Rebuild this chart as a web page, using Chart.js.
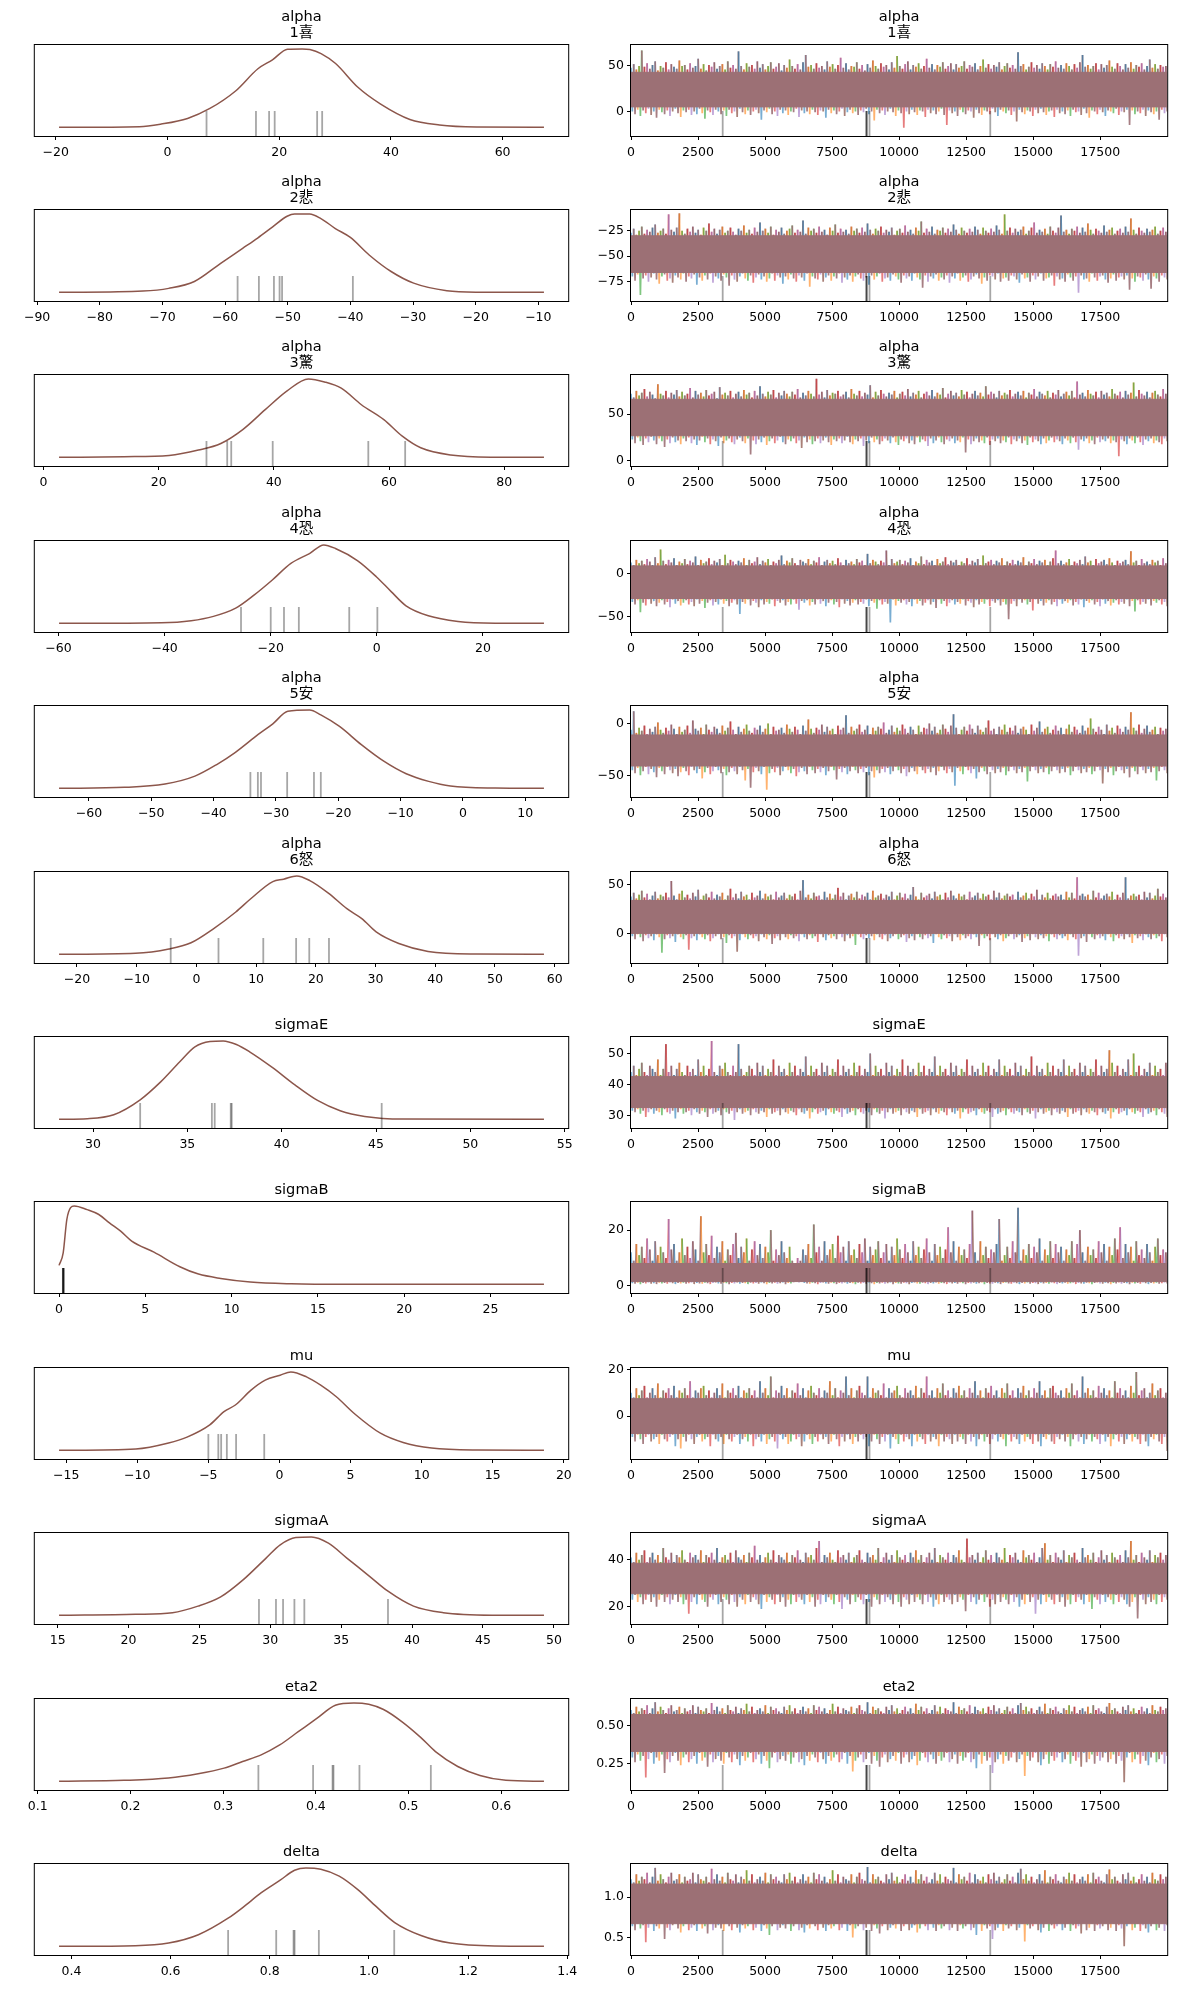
<!DOCTYPE html>
<html><head><meta charset="utf-8">
<script src="https://cdn.jsdelivr.net/npm/chart.js@4.4.1/dist/chart.umd.min.js"></script>
<style>
html,body{margin:0;padding:0;background:#fff;}
#fig{position:relative;width:1189px;height:1989px;background:#fff;overflow:hidden;}
#fig canvas{position:absolute;}
</style></head><body><div id="fig"></div>
<script>
// ---------- titles ----------
const titles = [['alpha','1喜'],['alpha','2悲'],['alpha','3驚'],['alpha','4恐'],['alpha','5安'],['alpha','6怒'],
  ['sigmaE'],['sigmaB'],['mu'],['sigmaA'],['eta2'],['delta']];

// ---------- KDE curves (x, normalized density) ----------
const kde1X = [-19.4,-5.0,-1.1,3.6,7.6,12.2,16.2,18.8,21.5,24.1,25.5,27.5,30.1,34.1,38.1,43.4,48.7,55.3,67.4];
const kde1Y = [0,0.008,0.042,0.114,0.241,0.464,0.747,0.861,0.996,1.0,0.992,0.941,0.814,0.511,0.300,0.101,0.030,0.004,0];
const kde2X = [-86.5,-73.1,-69.0,-64.9,-60.7,-57.2,-54.8,-52.4,-50.1,-48.9,-46.5,-44.7,-42.4,-40.0,-37.0,-33.5,-29.9,-24.6,-19.9,-9.1];
const kde2Y = [0,0.017,0.051,0.139,0.371,0.561,0.692,0.835,0.970,1.0,1.0,0.941,0.814,0.700,0.477,0.266,0.118,0.021,0.002,0];
const kde3X = [2.7,14.0,21.8,26.9,30.8,34.6,38.5,42.3,46.0,48.8,51.7,55.2,59.1,62.3,65.5,70.7,78.4,86.9];
const kde3Y = [0,0.008,0.025,0.093,0.177,0.354,0.608,0.848,1.0,0.962,0.882,0.671,0.481,0.270,0.122,0.030,0.002,0];
const kde4X = [-59.9,-40.6,-35.0,-30.8,-26.6,-23.1,-19.7,-16.2,-12.7,-10.0,-7.8,-3.6,-0.1,2.7,5.5,9.7,15.3,22.3,31.5];
const kde4Y = [0,0.008,0.034,0.089,0.194,0.363,0.553,0.764,0.890,1.0,0.954,0.798,0.595,0.405,0.224,0.097,0.025,0.002,0];
const kde5X = [-64.8,-54.3,-47.8,-43.0,-39.5,-36.5,-32.9,-30.5,-28.1,-24.6,-22.8,-19.8,-16.3,-12.7,-9.1,-5.5,-2.0,5.2,13.0];
const kde5Y = [0,0.013,0.055,0.156,0.304,0.460,0.684,0.823,0.983,1.0,0.937,0.789,0.557,0.346,0.186,0.089,0.030,0.004,0];
const kde6X = [-23.0,-10.2,-4.6,-0.9,2.9,6.6,9.1,12.8,14.6,16.8,19.0,22.1,25.2,27.7,30.1,33.9,38.8,46.9,58.2];
const kde6Y = [0,0.013,0.068,0.148,0.329,0.540,0.709,0.928,0.958,1.0,0.941,0.781,0.582,0.456,0.287,0.139,0.038,0.004,0];
const kde7X = [28.2,29.7,31.1,32.5,33.6,34.6,35.4,36.2,36.9,37.6,38.3,39.5,40.7,41.9,43.1,44.4,46.4,53.9];
const kde7Y = [0,0.008,0.059,0.249,0.481,0.734,0.924,0.992,1.0,0.954,0.861,0.662,0.439,0.241,0.110,0.038,0.004,0];
const kde8X = [0.0,0.24,0.45,0.67,0.88,1.63,2.28,2.92,3.57,4.21,5.50,7.00,8.08,9.37,11.08,13.45,16.67,28.1];
const kde8Y = [0.242,0.403,0.826,0.979,1.0,0.953,0.894,0.784,0.678,0.551,0.411,0.225,0.131,0.076,0.030,0.008,0.001,0];
const kde9X = [-15.5,-10.1,-7.8,-6.5,-4.9,-3.9,-3.1,-2.0,-1.0,0.05,0.8,1.9,2.9,4.0,5.3,7.1,8.7,10.7,13.9,18.6];
const kde9Y = [0,0.017,0.093,0.169,0.325,0.494,0.578,0.768,0.895,0.958,1.0,0.937,0.831,0.684,0.464,0.219,0.101,0.030,0.004,0];
const kde10X = [15.1,20.5,23.1,24.9,26.5,28.1,29.7,30.7,31.8,32.9,34.1,35.4,37.0,38.3,40.1,42.2,45.9,49.3];
const kde10Y = [0,0.013,0.034,0.118,0.236,0.456,0.730,0.899,0.992,1.0,0.920,0.730,0.498,0.308,0.118,0.034,0.002,0];
const kde11X = [0.123,0.193,0.241,0.273,0.301,0.321,0.341,0.361,0.381,0.401,0.421,0.441,0.457,0.473,0.493,0.513,0.529,0.553,0.577,0.605,0.646];
const kde11Y = [0,0.013,0.042,0.097,0.169,0.253,0.338,0.464,0.633,0.802,0.970,1.0,0.983,0.916,0.759,0.561,0.380,0.190,0.076,0.013,0];
const kde12X = [0.375,0.529,0.596,0.656,0.716,0.746,0.783,0.821,0.850,0.873,0.903,0.940,0.977,1.015,1.052,1.105,1.164,1.254,1.353];
const kde12Y = [0,0.008,0.042,0.148,0.359,0.498,0.684,0.844,0.970,1.0,0.983,0.895,0.726,0.506,0.304,0.139,0.042,0.004,0];

// ---------- divergences ----------
const rug1 = [7.0,15.85,18.2,19.2,26.8,27.7];
const rug2 = [-58.0,-54.6,-52.2,-51.3,-50.9,-39.6];
const rug3 = [28.3,31.9,32.6,39.8,56.4,62.8];
const rug4 = [-25.6,-20.0,-17.5,-14.7,-5.2,0.1];
const rug5 = [-34.1,-32.9,-32.4,-28.2,-23.9,-22.8];
const rug6 = [-4.3,3.7,11.2,16.7,18.9,22.2];
const rug7 = [32.5,36.3,36.45,37.3,37.35,45.3];
const rug8 = [0.22,0.23,0.24,0.25,0.26,0.27];
const rug9 = [-5.0,-4.3,-4.1,-3.7,-3.05,-1.07];
const rug10 = [29.2,30.4,30.9,31.7,32.4,38.3];
const rug11 = [0.338,0.397,0.418,0.419,0.447,0.524];
const rug12 = [0.716,0.813,0.848,0.850,0.899,1.051];
const divDraws = [3420,8780,8785,8790,8896,13400];

// ---------- tick labels ----------
const xt1 = ['-20','0','20','40','60'];
const xt2 = ['-90','-80','-70','-60','-50','-40','-30','-20','-10'];
const xt3 = ['0','20','40','60','80'];
const xt4 = ['-60','-40','-20','0','20'];
const xt5 = ['-60','-50','-40','-30','-20','-10','0','10'];
const xt6 = ['-20','-10','0','10','20','30','40','50','60'];
const xt7 = ['30','35','40','45','50','55'];
const xt8 = ['0','5','10','15','20','25'];
const xt9 = ['-15','-10','-5','0','5','10','15','20'];
const xt10 = ['15','20','25','30','35','40','45','50'];
const xt11 = ['0.1','0.2','0.3','0.4','0.5','0.6'];
const xt12 = ['0.4','0.6','0.8','1.0','1.2','1.4'];
const drawTicks = ['0','2500','5000','7500','10000','12500','15000','17500'];
const yt1 = ['0','50'], yt2 = ['-75','-50','-25'], yt3 = ['0','50'], yt4 = ['-50','0'], yt5 = ['-50','0'], yt6 = ['0','50'];
const yt7 = ['30','40','50'], yt8 = ['0','20'], yt9 = ['0','20'], yt10 = ['20','40'], yt11 = ['0.25','0.50'], yt12 = ['0.5','1.0'];

// ---------- trace panels: y limits, dense core, spike tips ----------
const lim1=[-27,73], lim2=[-94,-4.7], lim3=[-5.4,92], lim4=[-68,38], lim5=[-71,17], lim6=[-30.6,63.4];
const lim7=[25.9,55.3], lim8=[-2.6,30.1], lim9=[-18.5,20.7], lim10=[12.6,51.4], lim11=[0.079,0.671], lim12=[0.283,1.408];
const core1=[5,43], core2=[-66,-30], core3=[27,66], core4=[-29,9], core5=[-41,-11], core6=[0,34];
const core7=[32.5,42.5], core8=[1.5,8], core9=[-7.5,7.5], core10=[25.5,38.5], core11=[0.33,0.57], core12=[0.67,1.16];

const hi1=[48,52,46,50,67,49,53,47,51,55,45,50,48,54,46,52,49,47,56,50,
51,46,53,48,50,58,47,52,45,51,49,54,47,50,52,46,55,48,51,47,
66,50,46,53,49,51,47,55,48,52,46,50,54,47,49,53,45,51,48,57,
50,47,52,46,54,62,49,51,47,53,48,50,46,55,49,52,47,51,59,48,
53,46,50,49,54,47,51,45,52,48,56,50,47,53,49,51,46,54,48,61,
50,47,52,55,46,51,49,53,47,50,58,48,52,46,51,49,54,47,50,53,
46,52,48,50,55,47,51,49,53,46,50,57,48,52,47,51,49,54,46,50,
53,48,51,47,65,50,52,46,49,54,48,51,47,53,50,46,52,49,55,48,
51,47,53,50,46,52,48,54,62,49,51,47,50,53,46,52,48,51,56,49,
47,53,50,46,52,48,54,47,51,49,53,46,50,57,48,52,47,51,49,50];
const lo1=[0,-3,2,-5,1,-2,3,-4,0,-7,2,-1,-3,1,-5,0,3,-2,-6,1,
-1,2,-4,0,-3,3,-2,-8,1,-1,-4,2,0,-3,1,-5,2,-2,0,-6,
3,-1,-3,1,-4,0,2,-2,-9,1,-1,3,-3,0,-5,2,-2,1,-4,0,
-1,3,-6,1,-2,0,-3,2,-1,-4,1,0,-7,2,-2,1,-3,0,3,-5,
-1,2,-2,0,-4,1,-1,3,-3,0,-10,2,-2,1,-4,0,3,-1,-5,1,
-2,-18,0,-3,2,-1,-4,1,0,-6,2,-2,1,-3,0,3,-4,-15,1,-2,
0,-5,2,-1,-3,1,0,-7,2,-2,-4,1,0,-3,3,-1,-5,2,0,-2,
1,-4,0,-11,2,-1,-3,1,0,-5,2,-2,3,-1,-4,0,1,-6,2,-2,
0,-3,1,-5,2,-1,0,-4,3,-2,-7,1,0,-3,2,-1,-5,1,0,-2,
3,-4,0,-1,2,-15,1,-3,0,-2,2,-5,1,-1,-3,0,-9,2,-2,0];
const hi2=[-27,-23,-29,-25,-21,-28,-24,-26,-22,-19,-27,-25,-23,-28,-9,-24,-26,-22,-8,-25,
-28,-23,-26,-21,-27,-24,-29,-22,-25,-18,-26,-23,-28,-24,-21,-27,-25,-22,-26,-29,
-23,-25,-20,-27,-24,-28,-22,-26,-17,-25,-23,-27,-21,-29,-24,-26,-22,-28,-25,-23,
-20,-27,-24,-26,-15,-28,-22,-25,-23,-27,-21,-26,-24,-29,-22,-25,-19,-27,-23,-26,
-24,-28,-21,-25,-23,-27,-22,-26,-18,-24,-28,-23,-25,-21,-27,-24,-26,-22,-29,-25,
-23,-27,-20,-26,-24,-28,-22,-25,-16,-27,-23,-26,-21,-28,-24,-25,-22,-27,-23,-26,
-19,-24,-28,-22,-25,-27,-23,-26,-21,-24,-28,-22,-25,-27,-23,-26,-20,-24,-28,-9,
-25,-22,-27,-23,-26,-24,-21,-28,-25,-22,-17,-27,-24,-26,-23,-28,-21,-25,-27,-22,
-10,-26,-24,-28,-23,-25,-21,-27,-22,-26,-18,-24,-28,-23,-25,-27,-20,-26,-24,-22,
-28,-25,-23,-27,-21,-26,-13,-24,-28,-22,-25,-27,-23,-26,-24,-21,-28,-25,-22,-26];
const lo2=[-70,-74,-68,-88,-72,-69,-75,-71,-67,-73,-77,-70,-68,-74,-72,-76,-69,-71,-73,-67,
-75,-70,-72,-68,-78,-71,-74,-69,-73,-67,-76,-70,-72,-74,-68,-71,-79,-69,-73,-75,
-70,-67,-72,-74,-69,-76,-71,-68,-73,-70,-75,-72,-67,-74,-69,-71,-77,-70,-73,-68,
-72,-75,-69,-71,-74,-67,-80,-70,-72,-73,-68,-75,-71,-69,-74,-70,-72,-67,-76,-71,
-73,-69,-75,-70,-68,-72,-74,-71,-78,-69,-73,-70,-67,-75,-72,-71,-74,-68,-70,-73,
-76,-69,-72,-70,-74,-67,-71,-73,-81,-69,-75,-70,-72,-68,-74,-71,-73,-69,-76,-70,
-72,-67,-74,-71,-69,-75,-73,-70,-68,-72,-77,-71,-74,-69,-70,-73,-67,-75,-72,-71,
-74,-69,-70,-73,-76,-68,-72,-71,-75,-69,-73,-70,-67,-74,-72,-71,-69,-79,-70,-73,
-72,-75,-68,-71,-74,-70,-86,-69,-73,-72,-75,-67,-71,-74,-70,-69,-73,-76,-72,-68,
-74,-71,-70,-73,-69,-83,-72,-75,-70,-71,-74,-68,-73,-82,-70,-72,-75,-69,-71,-73];
const hi3=[72,68,75,70,73,77,69,74,71,67,82,72,70,75,68,73,71,76,69,74,
70,72,78,68,75,71,73,69,76,70,72,74,67,79,71,73,70,75,68,72,
74,69,76,71,73,68,75,70,80,72,69,74,71,76,68,73,70,75,72,69,
74,71,77,68,73,70,75,72,69,88,71,74,68,76,70,73,72,75,69,71,
74,68,77,72,70,75,69,73,71,81,68,74,70,76,72,69,73,71,75,68,
72,74,70,77,69,73,71,75,68,72,74,70,76,69,73,71,78,68,72,75,
70,73,69,76,71,74,68,72,75,70,73,69,80,71,74,72,68,75,70,73,
71,76,69,72,74,70,75,68,73,71,77,69,74,72,70,75,68,73,71,76,
69,72,74,70,75,68,85,71,73,69,76,72,70,74,68,75,71,73,69,77,
72,70,74,68,75,71,73,84,69,76,72,70,74,68,73,75,71,69,77,72];
const lo3=[23,19,25,21,17,24,20,26,22,18,24,21,15,23,19,25,20,22,18,24,
21,25,19,23,17,22,26,20,24,18,23,21,16,25,19,22,24,20,18,23,
25,21,19,24,7,22,18,23,20,25,17,21,24,19,22,26,20,18,23,21,
24,19,22,14,25,20,23,18,21,24,19,22,25,20,17,23,21,24,19,22,
26,20,18,23,21,24,16,22,19,25,20,23,18,21,24,22,19,25,20,17,
23,21,24,19,22,18,25,20,23,21,16,24,19,22,25,20,18,23,21,24,
19,22,20,25,9,23,18,21,24,20,22,19,25,17,23,21,24,19,22,20,
25,18,23,21,24,19,22,17,25,20,23,21,18,24,19,22,25,20,23,21,
18,24,22,19,25,20,12,23,21,24,19,22,18,25,20,23,21,24,19,22,
20,5,23,21,18,24,22,19,25,20,17,23,21,24,19,22,20,18,24,21];
const hi4=[13,10,16,12,15,11,17,14,10,19,12,28,15,11,16,13,18,10,14,12,
17,11,15,13,20,10,16,12,14,18,11,15,13,17,10,22,12,16,14,11,
15,13,18,10,16,12,14,19,11,15,13,17,10,14,12,16,21,11,15,13,
18,12,10,16,14,12,17,11,15,13,19,10,14,16,12,15,11,18,13,10,
16,12,14,11,17,13,15,10,23,12,16,14,11,15,13,27,10,17,12,14,
16,11,15,13,18,10,14,12,20,11,16,13,15,10,17,12,14,19,11,15,
13,16,10,14,12,18,11,15,13,17,10,21,12,14,16,11,15,13,18,10,
14,12,16,11,15,13,19,10,14,12,17,11,15,13,16,10,14,18,27,12,
15,11,13,17,10,14,12,16,11,20,13,15,10,17,12,14,16,11,18,13,
10,15,12,14,16,11,26,13,15,10,17,12,14,11,16,13,15,10,18,12];
const lo4=[-33,-36,-31,-45,-34,-37,-30,-35,-32,-38,-34,-31,-36,-33,-39,-30,-35,-32,-37,-34,
-31,-36,-33,-38,-30,-35,-32,-40,-34,-31,-37,-33,-36,-30,-35,-32,-38,-34,-31,-36,
-47,-33,-35,-30,-37,-32,-34,-39,-31,-36,-33,-35,-30,-38,-32,-34,-31,-37,-33,-36,
-30,-35,-42,-32,-34,-31,-37,-33,-36,-30,-35,-32,-38,-34,-31,-36,-33,-39,-30,-35,
-32,-37,-34,-31,-36,-33,-35,-30,-38,-32,-34,-41,-31,-36,-33,-35,-57,-30,-37,-32,
-34,-31,-36,-33,-38,-30,-35,-32,-37,-34,-31,-36,-33,-40,-30,-35,-32,-38,-34,-31,
-36,-33,-35,-30,-37,-32,-34,-39,-31,-36,-33,-35,-30,-38,-32,-34,-31,-37,-33,-36,
-53,-35,-32,-38,-30,-34,-31,-36,-33,-43,-30,-35,-32,-37,-34,-31,-36,-33,-38,-30,
-35,-32,-34,-31,-37,-33,-36,-30,-39,-32,-34,-31,-36,-33,-38,-30,-35,-32,-37,-34,
-31,-36,-33,-35,-30,-38,-32,-44,-31,-36,-33,-35,-30,-37,-32,-34,-31,-36,-33,-38];
const hi5=[-6,12,-9,-4,-7,-2,-10,-5,-8,-3,1,-6,-9,-4,-7,-1,-5,-10,-3,-8,
-6,-2,-9,3,-5,-7,-4,-10,-1,-6,-8,-3,-5,-9,-2,-7,-4,2,-6,-10,
-3,-8,-5,-1,-7,-9,-4,-6,-2,-8,-5,0,-10,-3,-7,-6,-4,-9,-1,-5,
-8,-3,-6,-10,-2,-7,4,-5,-9,-4,-6,-1,-8,-3,-7,-5,-10,-2,-6,-4,
8,-9,-3,-7,-5,-1,-8,-6,-2,-10,-4,-7,-3,-5,1,-9,-6,-2,-8,-4,
-7,-1,-5,-9,-3,-6,-10,-2,-8,-4,-5,0,-7,-3,-9,-6,-1,-5,-8,-2,
9,-4,-10,-6,-3,-7,-1,-5,-9,-2,-6,-8,-4,3,-7,-5,-10,-3,-6,-1,
-8,-4,-7,-2,-9,-5,-3,-6,-10,-1,-7,-4,2,-8,-5,-3,-9,-6,-2,-7,
-4,-10,-5,-1,-8,-3,-6,-9,-2,-7,-4,5,-5,-8,-3,-6,-10,-1,-7,-4,
-9,-2,-5,-8,-3,-6,11,-4,-7,-1,-9,-5,-2,-8,-6,-3,-10,-4,-7,-5];
const lo5=[-45,-48,-43,-50,-46,-42,-49,-44,-47,-52,-43,-46,-49,-42,-45,-48,-44,-51,-47,-43,
-46,-50,-42,-45,-48,-44,-53,-47,-43,-49,-46,-42,-45,-48,-44,-50,-47,-43,-46,-49,
-42,-45,-55,-44,-62,-47,-43,-46,-49,-42,-64,-48,-44,-47,-43,-50,-46,-42,-45,-48,
-44,-51,-47,-43,-46,-49,-42,-45,-48,-44,-47,-43,-50,-46,-42,-45,-54,-44,-47,-43,
-49,-46,-42,-45,-48,-44,-47,-43,-50,-46,-52,-45,-48,-44,-47,-43,-49,-46,-42,-45,
-48,-44,-51,-47,-43,-46,-49,-42,-45,-48,-44,-47,-43,-50,-46,-42,-45,-48,-44,-47,
-60,-43,-46,-49,-42,-45,-48,-44,-53,-47,-43,-46,-49,-42,-45,-48,-44,-47,-43,-50,
-46,-42,-45,-48,-44,-47,-43,-56,-46,-42,-45,-48,-44,-47,-43,-49,-46,-42,-45,-48,
-44,-47,-43,-50,-46,-42,-45,-48,-44,-47,-43,-49,-46,-42,-45,-58,-44,-47,-43,-50,
-46,-42,-45,-48,-44,-52,-43,-46,-49,-42,-45,-48,-44,-47,-43,-55,-46,-42,-45,-48];
const hi6=[38,42,36,40,44,37,41,35,39,43,36,40,38,42,37,54,39,35,41,44,
37,40,36,42,38,45,35,39,41,37,43,36,40,38,42,35,39,46,37,41,
36,43,38,40,35,42,37,39,44,36,41,38,40,35,43,37,39,42,36,40,
38,41,35,44,55,37,40,36,42,38,39,35,43,37,41,36,40,47,38,42,
35,39,41,37,43,36,40,38,42,35,44,37,39,41,36,40,38,43,35,39,
42,37,41,36,40,48,38,35,42,37,39,41,36,43,38,40,35,42,37,44,
39,36,41,38,40,35,43,37,39,42,36,41,38,40,35,44,37,42,36,39,
41,38,40,35,43,37,39,42,36,41,38,45,35,40,37,42,36,39,41,38,
40,35,43,37,42,36,58,39,41,38,40,35,44,37,42,36,39,41,38,43,
35,40,37,42,58,36,39,41,38,40,35,43,37,42,36,39,46,38,41,37];
const lo6=[-3,-6,-1,-4,-8,-2,-5,-3,-7,-1,-4,-20,-6,-2,-5,-3,-9,-1,-4,-6,
-2,-17,-5,-3,-7,-1,-4,-6,-2,-8,-5,-3,-1,-6,-4,-10,-2,-5,-3,-19,
-7,-1,-4,-6,-2,-5,-3,-8,-1,-4,-6,-2,-11,-5,-3,-7,-1,-4,-6,-2,
-5,-3,-8,-1,-4,-6,-2,-5,-3,-9,-1,-4,-7,-2,-5,-3,-6,-1,-4,-8,
-2,-5,-3,-12,-1,-4,-6,-2,-5,-3,-7,-1,-4,-6,-2,-8,-5,-3,-1,-6,
-4,-2,-9,-5,-3,-7,-1,-4,-6,-2,-5,-3,-10,-1,-4,-6,-2,-5,-3,-8,
-1,-4,-7,-2,-5,-3,-6,-1,-4,-13,-2,-5,-3,-7,-1,-4,-6,-2,-8,-5,
-3,-1,-6,-4,-2,-9,-5,-3,-7,-1,-4,-6,-2,-5,-3,-8,-1,-4,-6,-2,
-5,-3,-7,-1,-4,-6,-23,-5,-3,-9,-1,-4,-6,-2,-5,-3,-7,-1,-4,-8,
-2,-5,-3,-6,-1,-4,-10,-2,-5,-3,-7,-1,-4,-6,-2,-5,-3,-8,-1,-4];
const hi7=[44,46,43,45,47,44,43,46,45,44,48,43,45,53,44,46,43,45,47,44,
43,46,44,45,43,48,44,46,43,45,54,44,43,46,45,47,44,43,46,44,
53,45,43,44,46,45,43,47,44,46,43,45,44,48,43,46,44,45,43,47,
44,46,43,45,44,49,43,46,44,45,43,47,44,46,43,45,44,48,43,46,
44,45,43,47,44,46,43,45,44,50,43,46,44,45,43,47,44,46,43,45,
44,48,43,46,44,45,43,47,44,46,43,45,44,49,43,46,44,45,43,47,
44,46,43,45,44,48,43,46,44,45,43,47,44,46,43,45,44,48,43,46,
44,45,43,47,44,46,43,45,44,49,43,46,44,45,43,47,44,46,43,45,
44,48,43,46,44,45,43,47,44,46,43,45,44,48,43,46,44,45,51,47,
44,46,43,45,44,48,43,50,44,46,43,45,44,47,43,46,44,45,43,47];
const lo7=[31.5,31,32,30.5,31.5,29.5,31,32,30.5,31.5,31,30,32,31,30.5,31.5,29,31,32,30.5,
31,31.5,30,32,31,30.5,31.5,31,29.5,32,30.5,31,31.5,30,32,31,30.5,31.5,28.5,31,
32,30.5,31,31.5,30,32,31,30.5,31.5,31,29.5,32,30.5,31,31.5,30,32,31,30.5,31.5,
31,30,32,31,30.5,31.5,29,31,32,30.5,31,31.5,30,32,31,30.5,31.5,31,29.5,32,
30.5,31,31.5,30,32,31,30.5,31.5,31,30,32,31,30.5,31.5,29,31,32,30.5,31,31.5,
30,32,31,30.5,31.5,31,29.5,32,30.5,31,31.5,30,32,31,30.5,31.5,31,30,32,31,
30.5,31.5,29,31,32,30.5,31,31.5,30,32,31,30.5,31.5,31,29.5,32,30.5,31,31.5,30,
32,31,30.5,31.5,31,30,32,31,30.5,31.5,29,31,32,30.5,31,31.5,30,32,31,30.5,
31.5,31,29.5,32,30.5,31,31.5,30,32,31,30.5,31.5,31,30,32,31,30.5,31.5,29,31,
32,30.5,31,31.5,30,32,31,30.5,31.5,31,29.5,32,30.5,31,31.5,30,32,31,30.5,29.5];
const hi8=[12,9,15,11,14,10,17,13,9,16,11,14,12,10,24,13,15,9,12,17,
11,14,10,16,13,9,25,12,15,11,18,10,14,12,16,9,13,11,15,19,
10,14,12,17,9,13,16,11,15,10,14,12,20,9,13,11,16,12,10,14,
9,8,10,9,13,11,15,10,22,12,14,9,16,11,13,15,10,18,12,14,
9,16,11,13,10,15,12,17,9,14,11,13,16,10,12,15,9,14,11,17,
13,10,15,12,9,16,11,14,10,13,17,12,9,15,11,14,10,13,21,12,
16,9,14,11,13,10,15,27,12,9,16,11,14,10,13,12,15,24,9,11,
14,10,16,12,28,9,13,11,15,10,14,12,17,9,13,11,16,10,15,12,
14,9,13,11,16,10,15,20,12,9,14,11,13,10,16,12,15,9,14,11,
17,13,21,10,15,12,14,9,16,11,13,10,15,12,9,14,17,11,13,12];
const lo8=[.9,.7,1.1,.6,1,.8,1.2,.7,.9,.6,1.1,.8,1,.7,1.2,.9,.6,1,.8,1.1,
.7,.9,1.2,.6,1,.8,.7,1.1,.9,.6,1,1.2,.8,.7,1.1,.9,.6,1,.8,1.2,
.7,1,.9,.6,1.1,.8,1,.7,1.2,.9,.6,1,.8,1.1,.7,.9,1.2,.6,1,.8,
1.3,1.5,1.2,1.4,1,.8,.7,1.1,.9,.6,1,1.2,.8,.7,1.1,.9,.6,1,.8,1.2,
.7,1,.9,.6,1.1,.8,1,.7,1.2,.9,.6,1,.8,1.1,.7,.9,1.2,.6,1,.8,
.7,1.1,.9,.6,1,1.2,.8,.7,1.1,.9,.6,1,.8,1.2,.7,1,.9,.6,1.1,.8,
1,.7,1.2,.9,.6,1,.8,1.1,.7,.9,1.2,.6,1,.8,.7,1.1,.9,.6,1,1.2,
.8,.7,1.1,.9,.6,1,.8,1.2,.7,1,.9,.6,1.1,.8,1,.7,1.2,.9,.6,1,
.8,1.1,.7,.9,1.2,.6,1,.8,.7,1.1,.9,.6,1,1.2,.8,.7,1.1,.9,.6,1,
.8,1.2,.7,1,.9,.6,1.1,.8,1,.7,1.2,.9,.6,1,.8,1.1,.7,.9,1.2,.8];
const hi9=[10,8,12,9,11,13,8,10,12,9,14,8,11,10,12,9,13,8,11,10,
12,9,15,8,11,10,12,13,9,11,8,10,12,9,14,8,11,10,12,9,
13,8,11,10,12,9,11,8,15,10,12,9,17,8,11,10,13,9,12,8,
11,10,14,9,12,8,11,13,10,9,12,8,11,10,15,9,12,8,11,10,
17,9,12,8,11,13,10,9,17,8,12,10,11,9,14,8,12,10,11,13,
9,8,12,10,11,9,13,8,12,10,17,9,11,8,12,10,14,9,11,8,
12,10,13,9,11,8,12,10,15,9,11,8,12,10,13,9,11,8,12,10,
14,9,11,8,12,10,13,9,11,8,12,10,15,9,11,8,12,13,10,9,
11,8,12,10,14,9,11,8,17,10,12,9,11,8,13,10,12,9,11,8,
15,10,12,9,11,8,13,10,19,9,11,12,8,10,14,9,11,12,8,10];
const lo9=[-9,-11,-8,-10,-12,-9,-8,-11,-10,-9,-12,-8,-10,-11,-9,-8,-13,-10,-14,-9,
-11,-8,-10,-12,-9,-8,-11,-10,-9,-13,-8,-10,-11,-9,-12,-8,-10,-11,-9,-8,
-12,-10,-9,-11,-8,-13,-10,-9,-11,-8,-12,-10,-9,-11,-14,-8,-10,-9,-12,-11,
-8,-10,-9,-13,-11,-8,-10,-12,-9,-11,-8,-10,-9,-12,-11,-8,-10,-13,-9,-11,
-8,-10,-12,-9,-11,-8,-10,-9,-13,-11,-8,-10,-12,-9,-11,-8,-14,-9,-10,-12,
-8,-11,-9,-10,-13,-8,-11,-9,-10,-12,-8,-11,-9,-10,-13,-8,-11,-9,-10,-12,
-8,-11,-9,-10,-12,-8,-11,-9,-13,-10,-8,-11,-9,-12,-10,-8,-11,-9,-10,-13,
-8,-11,-9,-10,-12,-8,-11,-9,-10,-12,-8,-11,-13,-9,-10,-8,-11,-12,-9,-10,
-8,-11,-9,-13,-10,-8,-11,-9,-12,-10,-8,-11,-9,-10,-12,-8,-11,-9,-13,-10,
-8,-11,-9,-12,-10,-8,-11,-9,-10,-12,-8,-11,-13,-9,-10,-8,-11,-12,-9,-15];
const hi10=[41,39,43,40,42,44,39,41,43,40,42,39,45,41,40,43,39,42,41,44,
40,39,43,41,42,40,44,39,42,41,43,40,45,39,41,42,40,43,39,44,
41,40,42,39,43,41,46,40,42,39,41,43,40,44,39,42,41,40,43,39,
42,41,44,40,39,43,41,42,40,45,48,39,42,41,43,40,39,44,41,42,
40,43,39,41,42,44,40,39,43,41,42,40,45,39,41,43,40,42,39,44,
41,40,42,39,43,41,44,40,42,39,41,43,40,45,39,42,41,40,43,39,
42,41,44,40,39,49,41,42,40,43,39,41,44,40,42,39,43,41,40,45,
39,42,41,43,40,39,44,41,42,40,43,39,41,45,47,40,42,39,43,41,
40,44,39,42,41,43,40,39,45,41,42,40,43,39,41,44,40,42,39,43,
41,40,42,39,44,41,48,40,42,39,43,41,40,44,39,42,41,43,40,42];
const lo10=[23,25,22,24,21,23,25,22,24,20,23,25,22,24,21,23,25,22,24,21,
23,17,22,24,21,25,23,22,20,24,23,25,21,22,24,23,21,25,22,20,
24,23,21,25,22,24,23,21,19,25,22,24,23,21,25,22,24,20,23,21,
25,22,24,23,21,25,22,24,20,23,21,25,22,24,23,21,25,22,19,24,
23,21,25,22,24,23,21,25,22,20,24,23,21,25,22,24,23,21,25,22,
20,24,23,21,25,22,24,23,21,25,22,24,20,23,21,25,22,24,23,21,
25,22,24,23,18,25,22,24,21,23,25,22,24,20,23,21,25,22,24,23,
21,25,22,24,20,23,21,25,22,24,17,23,21,25,22,24,23,21,25,22,
24,20,23,21,25,22,24,23,21,25,22,19,24,23,21,25,22,24,23,21,
25,22,24,23,21,20,22,24,15,25,23,21,24,22,23,21,25,22,24,23];
const hi11=[.6,.58,.62,.59,.61,.6,.63,.58,.61,.65,.59,.62,.6,.58,.61,.63,.59,.6,.62,.58,
.61,.59,.6,.63,.58,.62,.6,.59,.61,.58,.645,.6,.62,.59,.61,.58,.63,.6,.59,.62,
.58,.61,.6,.64,.59,.62,.58,.6,.61,.59,.63,.58,.62,.6,.61,.59,.58,.62,.6,.63,
.59,.61,.58,.6,.62,.59,.61,.58,.63,.6,.62,.59,.61,.58,.6,.64,.59,.62,.58,.61,
.6,.59,.62,.58,.61,.63,.6,.59,.65,.58,.62,.6,.61,.59,.58,.62,.6,.63,.59,.61,
.58,.6,.62,.59,.61,.58,.64,.6,.62,.59,.61,.58,.6,.63,.59,.62,.58,.61,.6,.59,
.65,.58,.62,.6,.61,.59,.63,.58,.62,.6,.59,.61,.58,.62,.6,.63,.59,.61,.58,.6,
.62,.59,.61,.58,.63,.645,.6,.62,.59,.61,.58,.6,.62,.59,.64,.58,.61,.6,.62,.59,
.58,.61,.6,.63,.59,.62,.58,.6,.61,.59,.62,.58,.63,.6,.61,.59,.58,.62,.645,.6,
.61,.59,.58,.62,.6,.63,.59,.61,.58,.6,.62,.59,.61,.58,.63,.6,.59,.62,.6,.61];
const lo11=[.29,.26,.31,.27,.3,.16,.28,.32,.25,.29,.27,.31,.19,.28,.26,.3,.32,.27,.24,.29,
.31,.26,.28,.3,.25,.32,.27,.29,.23,.31,.26,.28,.3,.27,.25,.32,.29,.26,.31,.28,
.24,.3,.27,.29,.32,.26,.28,.31,.25,.3,.27,.22,.29,.32,.26,.28,.3,.27,.31,.25,
.29,.32,.26,.28,.24,.3,.27,.31,.29,.26,.32,.28,.25,.3,.27,.29,.31,.26,.28,.32,
.25,.3,.2,.27,.29,.31,.26,.28,.32,.25,.3,.27,.23,.29,.31,.26,.28,.3,.27,.32,
.25,.29,.31,.26,.28,.3,.24,.27,.32,.29,.26,.31,.28,.25,.3,.27,.29,.32,.26,.28,
.31,.25,.3,.27,.29,.32,.26,.28,.22,.31,.25,.3,.27,.29,.19,.26,.28,.31,.25,.3,
.27,.29,.32,.26,.28,.31,.17,.3,.27,.29,.32,.26,.24,.28,.31,.25,.3,.27,.29,.32,
.26,.28,.31,.25,.3,.27,.29,.23,.32,.26,.28,.31,.25,.3,.27,.29,.32,.26,.28,.31,
.25,.3,.27,.13,.29,.32,.26,.28,.31,.25,.3,.27,.24,.29,.32,.26,.28,.31,.25,.3];
const hi12=[1.22,1.18,1.28,1.2,1.25,1.22,1.3,1.18,1.25,1.36,1.2,1.28,1.22,1.18,1.25,1.3,1.2,1.22,1.28,1.18,
1.25,1.2,1.22,1.3,1.18,1.28,1.22,1.2,1.25,1.18,1.35,1.22,1.28,1.2,1.25,1.18,1.3,1.22,1.2,1.28,
1.18,1.25,1.22,1.33,1.2,1.28,1.18,1.22,1.25,1.2,1.3,1.18,1.28,1.22,1.25,1.2,1.18,1.28,1.22,1.3,
1.2,1.25,1.18,1.22,1.28,1.2,1.25,1.18,1.3,1.22,1.28,1.2,1.25,1.18,1.22,1.33,1.2,1.28,1.18,1.25,
1.22,1.2,1.28,1.18,1.25,1.3,1.22,1.2,1.37,1.18,1.28,1.22,1.25,1.2,1.18,1.28,1.22,1.3,1.2,1.25,
1.18,1.22,1.28,1.2,1.25,1.18,1.33,1.22,1.28,1.2,1.25,1.18,1.22,1.3,1.2,1.28,1.18,1.25,1.22,1.2,
1.36,1.18,1.28,1.22,1.25,1.2,1.3,1.18,1.28,1.22,1.2,1.25,1.18,1.28,1.22,1.3,1.2,1.25,1.18,1.22,
1.28,1.2,1.25,1.18,1.3,1.35,1.22,1.28,1.2,1.25,1.18,1.22,1.28,1.2,1.33,1.18,1.25,1.22,1.28,1.2,
1.18,1.25,1.22,1.3,1.2,1.28,1.18,1.22,1.25,1.2,1.28,1.18,1.3,1.22,1.25,1.2,1.18,1.28,1.34,1.22,
1.25,1.2,1.18,1.28,1.22,1.3,1.2,1.25,1.18,1.22,1.28,1.2,1.25,1.18,1.3,1.22,1.2,1.28,1.22,1.25];
const lo12=[.64,.59,.67,.61,.65,.44,.62,.69,.58,.64,.61,.67,.48,.62,.59,.65,.69,.61,.56,.64,
.67,.59,.62,.65,.58,.69,.61,.64,.55,.67,.59,.62,.65,.61,.58,.69,.64,.59,.67,.62,
.56,.65,.61,.64,.69,.59,.62,.67,.58,.65,.61,.53,.64,.69,.59,.62,.65,.61,.67,.58,
.64,.69,.59,.62,.56,.65,.61,.67,.64,.59,.69,.62,.58,.65,.61,.64,.67,.59,.62,.69,
.58,.65,.5,.61,.64,.67,.59,.62,.69,.58,.65,.61,.55,.64,.67,.59,.62,.65,.61,.69,
.58,.64,.67,.59,.62,.65,.56,.61,.69,.64,.59,.67,.62,.58,.65,.61,.64,.69,.59,.62,
.67,.58,.65,.61,.64,.69,.59,.62,.53,.67,.58,.65,.61,.64,.48,.59,.62,.67,.58,.65,
.61,.64,.69,.59,.62,.67,.45,.65,.61,.64,.69,.59,.56,.62,.67,.58,.65,.61,.64,.69,
.59,.62,.67,.58,.65,.61,.64,.55,.69,.59,.62,.67,.58,.65,.61,.64,.69,.59,.62,.67,
.58,.65,.61,.39,.64,.69,.59,.62,.67,.58,.65,.61,.56,.64,.69,.59,.62,.67,.58,.65];

// ---------- assemble ----------
const kdeXs=[kde1X,kde2X,kde3X,kde4X,kde5X,kde6X,kde7X,kde8X,kde9X,kde10X,kde11X,kde12X];
const kdeYs=[kde1Y,kde2Y,kde3Y,kde4Y,kde5Y,kde6Y,kde7Y,kde8Y,kde9Y,kde10Y,kde11Y,kde12Y];
const rugs=[rug1,rug2,rug3,rug4,rug5,rug6,rug7,rug8,rug9,rug10,rug11,rug12];
const xts=[xt1,xt2,xt3,xt4,xt5,xt6,xt7,xt8,xt9,xt10,xt11,xt12];
const yts=[yt1,yt2,yt3,yt4,yt5,yt6,yt7,yt8,yt9,yt10,yt11,yt12];
const lims=[lim1,lim2,lim3,lim4,lim5,lim6,lim7,lim8,lim9,lim10,lim11,lim12];
const cores=[core1,core2,core3,core4,core5,core6,core7,core8,core9,core10,core11,core12];
const his=[hi1,hi2,hi3,hi4,hi5,hi6,hi7,hi8,hi9,hi10,hi11,hi12];
const los=[lo1,lo2,lo3,lo4,lo5,lo6,lo7,lo8,lo9,lo10,lo11,lo12];

const FONT='"DejaVu Sans","Noto Sans CJK JP",sans-serif';
const TICKPX=12.5, TITLEPX=14.6;
const KDE_COLOR='#8c564b';
const MAUVE='rgb(156,112,117)';
const PAL=['rgba(31,119,180,0.6)','rgba(156,112,117,0.9)','rgba(255,127,14,0.6)','rgba(44,160,44,0.6)','rgba(156,112,117,0.9)','rgba(214,39,40,0.6)','rgba(148,103,189,0.6)','rgba(140,86,75,0.75)'];
const KDE_YLIM=[-0.11,1.05];
const ROW0=44.5, ROWSTEP=165.4, BOXH=91;
const LBOX=[24,573], RBOX=[631,1180];
const LASTDRAW=19999;
const RUG_R=25;

const fmt = s => String(s).replace('-', '\u2212');

const framePlugin = {
  id:'frame',
  afterDraw(chart, args, opts){
    const {ctx, chartArea:a} = chart;
    ctx.save();
    ctx.strokeStyle='#000'; ctx.lineWidth=1;
    ctx.strokeRect(a.left-0.5, a.top-0.5, a.right-a.left+1, a.bottom-a.top+1);
    ctx.fillStyle='#000'; ctx.font=`${TITLEPX}px ${FONT}`;
    ctx.textAlign='center'; ctx.textBaseline='alphabetic';
    const lines=opts.lines||[]; const cx=(a.left+a.right)/2;
    lines.forEach((t,i)=>ctx.fillText(t, cx, a.top-8-(lines.length-1-i)*16.5));
    ctx.restore();
  }
};

const fig=document.getElementById('fig');
function makeCanvas(l,t,w,h){
  const c=document.createElement('canvas');
  c.width=w; c.height=h;
  c.style.left=l+'px'; c.style.top=t+'px'; c.style.width=w+'px'; c.style.height=h+'px';
  fig.appendChild(c); return c;
}
function tickGrid(){ return {display:true, drawOnChartArea:false, drawTicks:true, tickLength:4, color:'#000', lineWidth:1}; }
function xAxis(min,max,labels,padB){
  return {type:'linear', min, max,
    afterFit:s=>{s.height=padB;},
    afterBuildTicks:s=>{s.ticks=labels.map(v=>({value:parseFloat(v)}));},
    ticks:{autoSkip:false, maxRotation:0, padding:5, color:'#000', font:{family:FONT,size:TICKPX},
      callback:(v,i)=>fmt(labels[i])},
    grid:tickGrid(), border:{display:false}};
}
function rugSet(points){
  return {data:points, showLine:false, pointStyle:'line', pointRotation:90, pointRadius:RUG_R, pointHoverRadius:RUG_R,
    pointBorderColor:'rgba(0,0,0,0.35)', pointBorderWidth:1.8, borderColor:'rgba(0,0,0,0.35)', clip:0, order:0};
}

for(let k=0;k<12;k++){
  const top=Math.round(ROW0+k*ROWSTEP);
  // ----- density panel -----
  {
    const PADL=16,PADR=22,PADT=42,PADB=28;
    const cv=makeCanvas(LBOX[0]-PADL, top-PADT, LBOX[1]-LBOX[0]+PADL+PADR, BOXH+PADT+PADB);
    const xs=kdeXs[k], ys=kdeYs[k];
    const lo=Math.min(...xs), hi=Math.max(...xs), m=0.05*(hi-lo);
    new Chart(cv,{
      type:'scatter',
      data:{datasets:[
        rugSet(rugs[k].map(v=>({x:v,y:KDE_YLIM[0]}))),
        {data:xs.map((x,i)=>({x,y:ys[i]})), showLine:true, pointRadius:0, borderColor:KDE_COLOR, borderWidth:1.5,
         cubicInterpolationMode:'monotone', order:1}
      ]},
      options:{animation:false, responsive:false, events:[],
        layout:{padding:{left:PADL,right:PADR,top:PADT,bottom:0}},
        plugins:{legend:{display:false}, tooltip:{enabled:false}, frame:{lines:titles[k]}},
        scales:{x:xAxis(lo-m,hi+m,xts[k],PADB), y:{type:'linear',min:KDE_YLIM[0],max:KDE_YLIM[1],display:false}}},
      plugins:[framePlugin]
    });
  }
  // ----- trace panel -----
  {
    const PADL=62,PADR=14,PADT=42,PADB=28;
    const cv=makeCanvas(RBOX[0]-PADL, top-PADT, RBOX[1]-RBOX[0]+PADL+PADR, BOXH+PADT+PADB);
    const hiA=his[k], loA=los[k], n=Math.min(hiA.length,loA.length);
    const step=LASTDRAW/(2*n-1);
    const zig=[];
    for(let i=0;i<n;i++){ zig.push({x:2*i*step,y:hiA[i]}); zig.push({x:(2*i+1)*step,y:loA[i]}); }
    const lim=lims[k], core=cores[k], yl=yts[k];
    new Chart(cv,{
      type:'scatter',
      data:{datasets:[
        rugSet(divDraws.map(d=>({x:d,y:lim[0]}))),
        {data:[{x:0,y:core[1]},{x:LASTDRAW,y:core[1]}], showLine:true, pointRadius:0, borderWidth:1, borderColor:MAUVE,
         backgroundColor:MAUVE, fill:'+1', order:1},
        {data:[{x:0,y:core[0]},{x:LASTDRAW,y:core[0]}], showLine:true, pointRadius:0, borderWidth:1, borderColor:MAUVE, order:2},
        {data:zig, showLine:true, pointRadius:0, borderWidth:1.7, borderColor:PAL[7],
         segment:{borderColor:c=>PAL[(c.p0DataIndex>>1)%PAL.length]}, order:3}
      ]},
      options:{animation:false, responsive:false, events:[],
        layout:{padding:{left:0,right:PADR,top:PADT,bottom:0}},
        plugins:{legend:{display:false}, tooltip:{enabled:false}, frame:{lines:titles[k]}},
        scales:{
          x:xAxis(0,LASTDRAW,drawTicks,PADB),
          y:{type:'linear', min:lim[0], max:lim[1],
             afterFit:s=>{s.width=PADL;},
             afterBuildTicks:s=>{s.ticks=yl.map(v=>({value:parseFloat(v)}));},
             ticks:{autoSkip:false, padding:3, color:'#000', font:{family:FONT,size:TICKPX}, callback:(v,i)=>fmt(yl[i])},
             grid:tickGrid(), border:{display:false}}
        }},
      plugins:[framePlugin]
    });
  }
}
</script></body></html>
